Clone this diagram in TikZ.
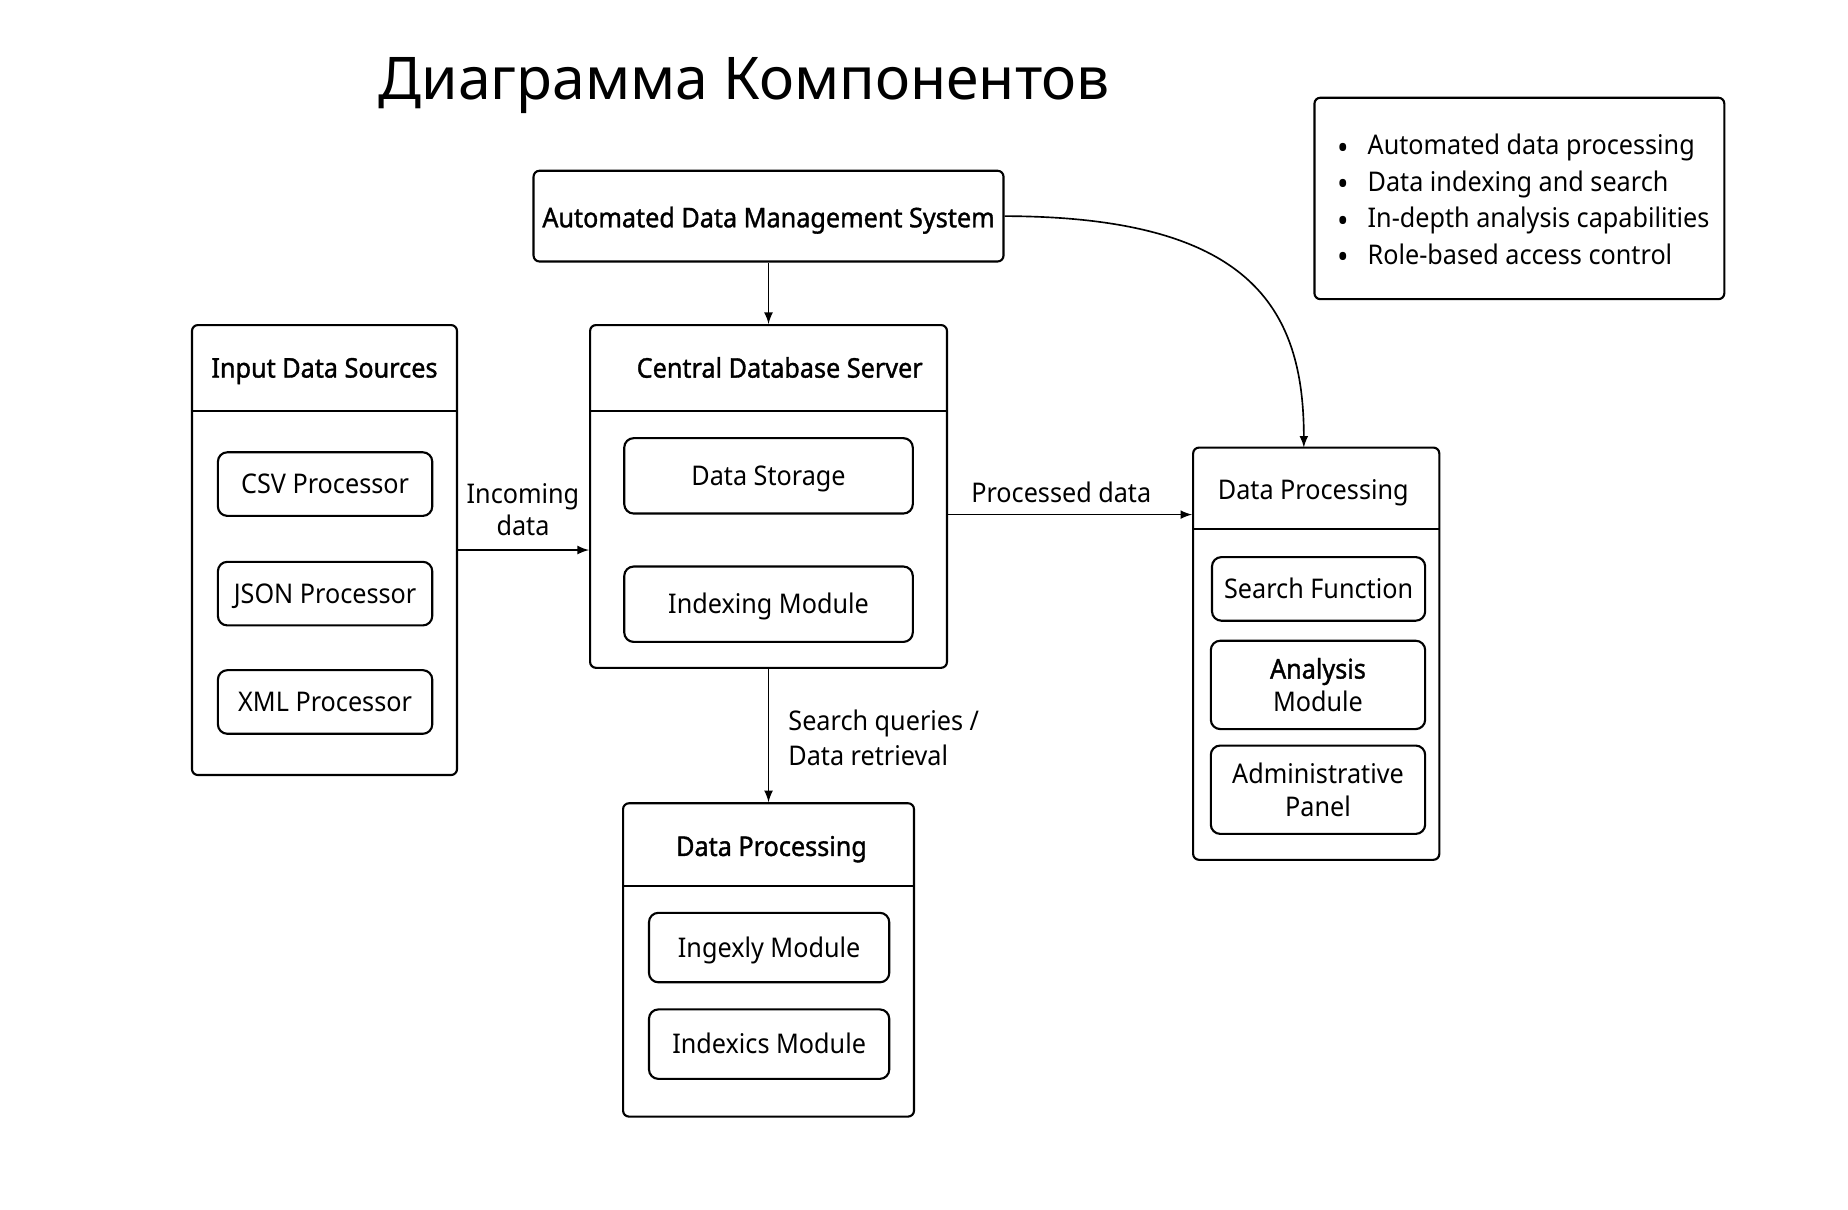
\documentclass[tikz,border=0pt]{standalone}
\usepackage{fontspec}
\setmainfont{Noto Sans}[FakeStretch=0.93]
\newfontfamily\titlefont{Noto Sans}
\newfontfamily\headfont{Noto Sans}[FakeStretch=0.93, FakeBold=1.3]
\usepackage{tikz}
\usetikzlibrary{calc}
\usetikzlibrary{arrows}
\usetikzlibrary{positioning}
\tikzset{container/.style={draw, line width=0.9pt, rounded corners=2.5pt, inner sep=0pt}}
\tikzset{module/.style={draw, line width=0.9pt, rounded corners=4pt, inner sep=0pt, align=center, font=\fontsize{11.5}{14}\selectfont}}
\tikzset{oneline/.style={module, text height=9.5pt, text depth=1.3pt}}
\tikzset{header/.style={font=\fontsize{11.5}{13}\selectfont\headfont}}
\newcommand{\bigdot}{\raisebox{-1.8pt}{\fontsize{14}{14}\selectfont\textbullet}\hspace{8pt}}

\begin{document}
\begin{tikzpicture}[x=0.5pt, y=-0.5pt]
\tikzstyle{myedgestyle} = [line width=0.7pt, -latex]
\tikzstyle{lbl} = [font=\fontsize{11.5}{13.5}\selectfont, inner sep=0pt]
\useasboundingbox (0,0) rectangle (1569,1027);
\node[](title) at (632, 73){\fontsize{25}{30}\selectfont\titlefont Диаграмма Компонентов};
% legend
\node[container, minimum width=174pt, minimum height=85.5pt](legend) at (1290, 168.5){};
\node[anchor=west, inner sep=0pt, align=left, font=\fontsize{11.5}{15.5}\selectfont](legtext) at (1135, 171)
  {\bigdot Automated data processing\\
   \bigdot Data indexing and search\\
   \bigdot In-depth analysis capabilities\\
   \bigdot Role-based access control};
% top system
\node[container, minimum width=199.5pt, minimum height=38.5pt](adms) at (652.5, 183.5){};
\node[header](admstext) at (652.5, 187){Automated Data Management System};
% input sources
\node[container, minimum width=112.5pt, minimum height=191pt](src) at (275.5, 467){};
\node[header](srctitle) at (275.5, 315){Input Data Sources};
\draw[line width=0.9pt] (src.west |- 0,349) -- (src.east |- 0,349);
\node[oneline, minimum width=91pt, minimum height=27pt](csv) at (276, 411){CSV Processor};
\node[oneline, minimum width=91pt, minimum height=27pt](json) at (276, 504){JSON Processor};
\node[oneline, minimum width=91pt, minimum height=27pt](xml) at (276, 596){XML Processor};
% central server
\node[container, minimum width=151.5pt, minimum height=145.5pt](cds) at (652.5, 421.5){};
\node[header](cdstitle) at (662, 312){Central Database Server};
\draw[line width=0.9pt] (cds.west |- 0,349) -- (cds.east |- 0,349);
\node[oneline, minimum width=122.5pt, minimum height=32pt](store) at (652.5, 404){Data Storage};
\node[oneline, minimum width=122.5pt, minimum height=32pt](index) at (652.5, 513){Indexing Module};
% right processing
\node[container, minimum width=104.5pt, minimum height=175pt](dpr) at (1117.5, 555){};
\node[lbl](dprtitle) at (1115, 418){Data Processing};
\draw[line width=0.9pt] (dpr.west |- 0,449) -- (dpr.east |- 0,449);
\node[oneline, minimum width=90.5pt, minimum height=27pt](search) at (1119.5, 500){Search Function};
\node[module, minimum width=91pt, minimum height=37.5pt](analysis) at (1119, 581.5){{\headfont Analysis}\\Module};
\node[module, minimum width=91pt, minimum height=37.5pt](admin) at (1119, 670.5){Administrative\\Panel};
% bottom processing
\node[container, minimum width=123.5pt, minimum height=133pt](dpb) at (652.5, 815){};
\node[header](dpbtitle) at (655, 721){Data Processing};
\draw[line width=0.9pt] (dpb.west |- 0,752) -- (dpb.east |- 0,752);
\node[oneline, minimum width=102pt, minimum height=29.5pt](ingexly) at (653, 804.5){Ingexly Module};
\node[oneline, minimum width=102pt, minimum height=29.5pt](indexics) at (653, 886.5){Indexics Module};
% connectors
\coordinate (dprin) at (1107, 380);
\draw[myedgestyle] (adms.south) -- (cds.north);
\draw[myedgestyle] (src.east) -- (src.east -| cds.west);
\node[lbl, align=center](inlbl) at (444, 433){Incoming\\data};
\draw[myedgestyle] (store.south -| cds.east) -- (store.south -| dpr.west);
\node[lbl](outlbl) at (901, 418){Processed data};
\draw[myedgestyle] (cds.south) -- (dpb.north);
\node[lbl, anchor=west, align=left, font=\fontsize{11.5}{14.5}\selectfont](qlbl) at (669, 626.5){Search queries /\\Data retrieval};
\draw[myedgestyle] (adms.east) .. controls (1060, 184) and (1107, 260) .. (dprin);
\end{tikzpicture}
\end{document}
